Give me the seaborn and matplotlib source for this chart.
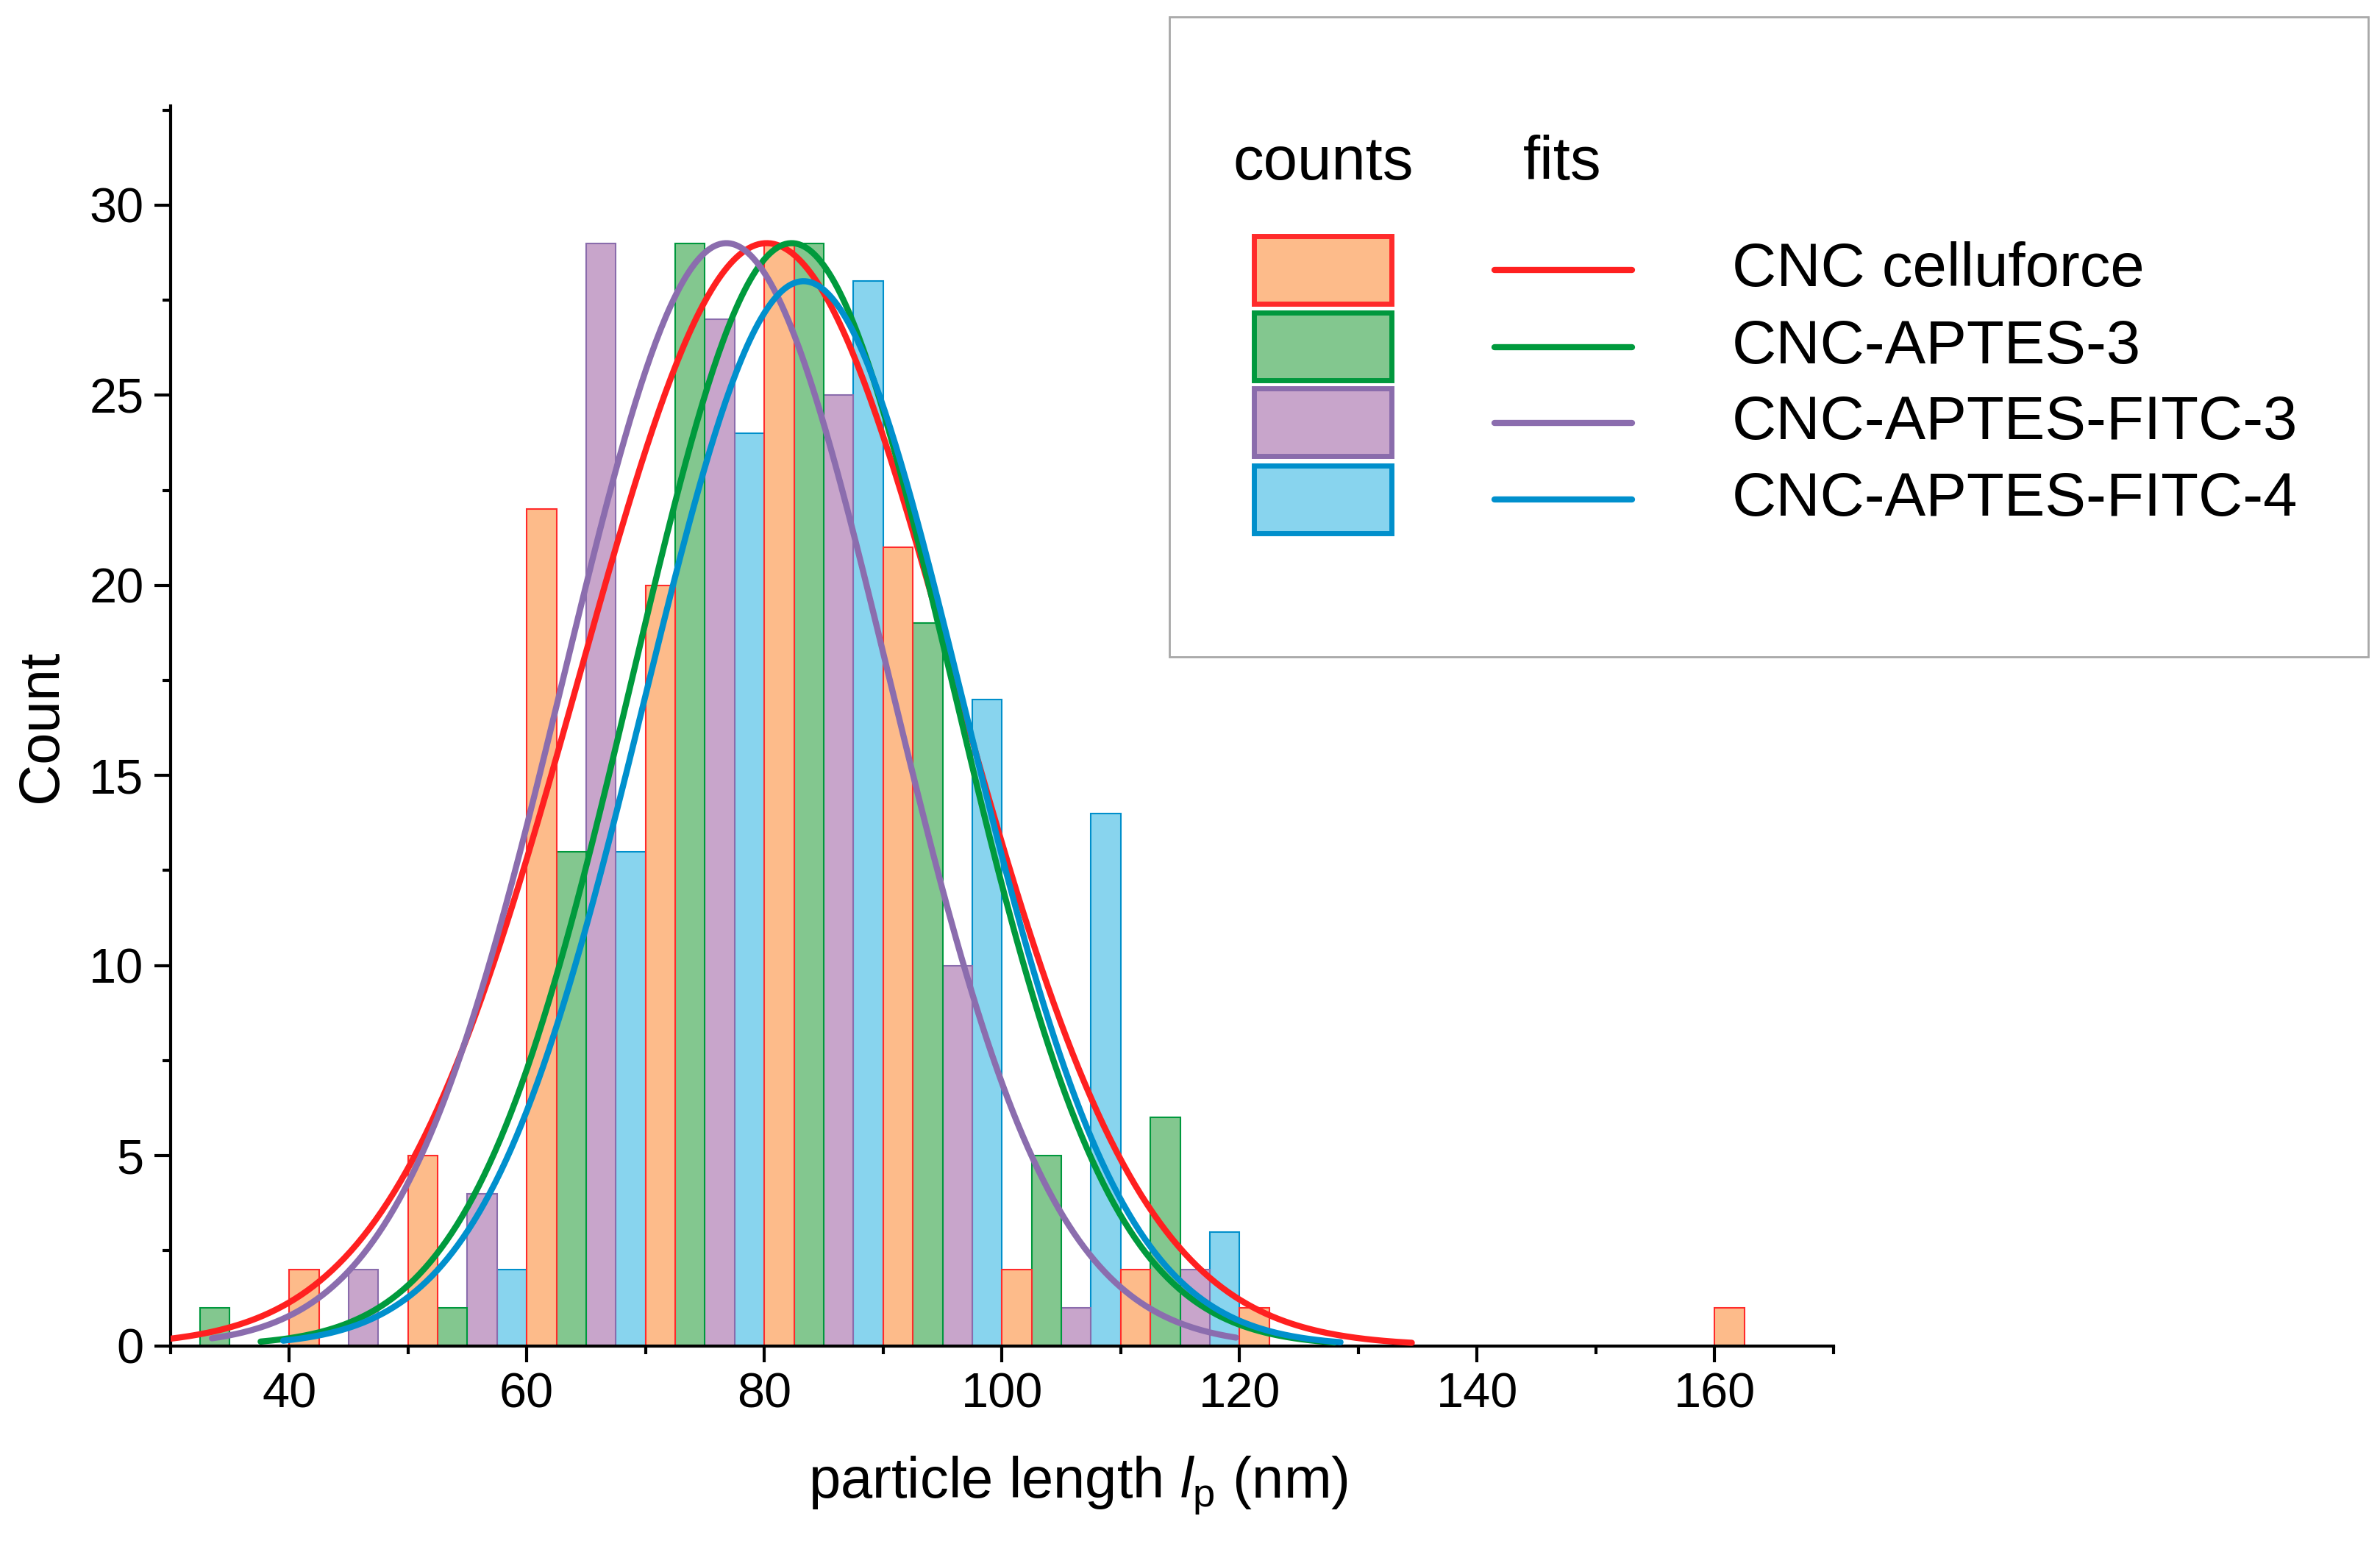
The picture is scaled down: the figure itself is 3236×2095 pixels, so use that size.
import numpy as np
import pandas as pd
import matplotlib
matplotlib.use("Agg")
import matplotlib.pyplot as plt
import matplotlib.colors as mcolors
from matplotlib.patches import Rectangle
from matplotlib.lines import Line2D
from matplotlib.ticker import MultipleLocator
import seaborn as sns

sns.set_style("ticks")
plt.rcParams['font.family'] = ['Liberation Sans', 'DejaVu Sans']
plt.rcParams['mathtext.fontset'] = 'custom'
plt.rcParams['mathtext.rm'] = 'Liberation Sans'
plt.rcParams['mathtext.it'] = 'Liberation Sans:italic'
for key in ['text.color', 'axes.labelcolor', 'xtick.color', 'ytick.color', 'axes.edgecolor']:
    plt.rcParams[key] = 'black'

# data (10 nm bins, one quarter of each bin per sample)
samples = ["CNC celluforce", "CNC-APTES-3", "CNC-APTES-FITC-3", "CNC-APTES-FITC-4"]
bin_edges = [30, 40, 50, 60, 70, 80, 90, 100, 110, 120, 130, 140, 150, 160, 170]
counts_celluforce = [0, 2, 5, 22, 20, 29, 21, 2, 2, 1, 0, 0, 0, 1]
counts_aptes3 = [1, 0, 1, 13, 29, 29, 19, 5, 6, 0, 0, 0, 0, 0]
counts_fitc3 = [0, 2, 4, 29, 27, 25, 10, 1, 2, 0, 0, 0, 0, 0]
counts_fitc4 = [0, 0, 2, 13, 24, 28, 17, 14, 3, 0, 0, 0, 0, 0]

# gaussian fit parameters (centre, width, height, drawn range)
fit_centre = [80.2, 82.3, 76.8, 83.3]
fit_sigma = [15.8, 13.4, 13.7, 13.4]
fit_height = [29.0, 29.0, 29.0, 28.0]
fit_start = [30.0, 37.6, 33.5, 39.5]
fit_end = [134.5, 128.0, 119.7, 128.5]

fill_colors = ["#FDBB8A", "#83C78F", "#C8A5CB", "#88D4EE"]
edge_colors = ["#FF2B2B", "#00983D", "#8A6CAC", "#008FCB"]
line_colors = ["#FF2020", "#009A3D", "#8B6DAE", "#0090CD"]

all_counts = [counts_celluforce, counts_aptes3, counts_fitc3, counts_fitc4]
rows = []
for name, cnts in zip(samples, all_counts):
    for lo, hi, c in zip(bin_edges[:-1], bin_edges[1:], cnts):
        if c > 0:
            rows.append({"length": (lo + hi) / 2, "count": c, "sample": name})
df = pd.DataFrame(rows)

W, H = 3237, 2095
fig = plt.figure(figsize=(W / 100, H / 100), dpi=100)
ax = fig.add_axes([231.6 / W, 1 - 1829.6 / H, (2493 - 231.6) / W, (1829.6 - 144.5) / H])

sns.histplot(data=df, x="length", weights="count", hue="sample", hue_order=samples,
             bins=bin_edges, multiple="dodge", shrink=1, palette=fill_colors,
             alpha=1, linewidth=1.5, legend=False, ax=ax)

# per-sample edge colours
edge_map = {mcolors.to_hex(f): e for f, e in zip(fill_colors, edge_colors)}
for p in ax.patches:
    p.set_edgecolor(edge_map.get(mcolors.to_hex(p.get_facecolor()), "none"))

# fitted curves
for i, name in enumerate(samples):
    xs = np.linspace(fit_start[i], fit_end[i], 400)
    ys = fit_height[i] * np.exp(-0.5 * ((xs - fit_centre[i]) / fit_sigma[i]) ** 2)
    sns.lineplot(x=xs, y=ys, color=line_colors[i], linewidth=6, sort=False,
                 estimator=None, ax=ax, zorder=3)

ax.set_xlim(30, 170)
ax.set_ylim(0, 32.6)
ax.xaxis.set_major_locator(MultipleLocator(20))
ax.xaxis.set_minor_locator(MultipleLocator(10))
ax.yaxis.set_major_locator(MultipleLocator(5))
ax.yaxis.set_minor_locator(MultipleLocator(2.5))
ax.tick_params(which="major", direction="out", length=16, width=3, labelsize=48, pad=10)
ax.tick_params(which="minor", direction="out", length=8, width=3)
for s in ["left", "bottom"]:
    ax.spines[s].set_linewidth(3)
sns.despine(ax=ax)

ax.set_xlabel(r"particle length $\mathit{l}_\mathrm{p}$ (nm)", fontsize=56, labelpad=36)
ax.xaxis.label.set_x(0.546)
ax.set_ylabel("Count", fontsize=56, labelpad=20)

# legend box drawn by hand in figure pixels
def fx(px):
    return px / W

def fy(py):
    return 1 - py / H

fig.add_artist(Rectangle((fx(1590), fy(893)), (3220 - 1590) / W, (893 - 23) / H,
                         transform=fig.transFigure, facecolor="white",
                         edgecolor="#a8a8a8", linewidth=2))
fig.text(fx(1799), fy(222), "counts", fontsize=60, ha="center", va="center")
fig.text(fx(2124), fy(222), "fits", fontsize=60, ha="center", va="center")
patch_tops = [321, 425, 528, 633]
line_ys = [367, 472, 575, 679]
for i, name in enumerate(samples):
    fig.add_artist(Rectangle((fx(1705), fy(patch_tops[i] + 92)), (1892 - 1705) / W, 92 / H,
                             transform=fig.transFigure, facecolor=fill_colors[i],
                             edgecolor=edge_colors[i], linewidth=5))
    fig.add_artist(Line2D([fx(2032), fx(2219)], [fy(line_ys[i]), fy(line_ys[i])],
                          transform=fig.transFigure, color=line_colors[i], linewidth=6))
    fig.text(fx(2355), fy(line_ys[i]), name, fontsize=60, ha="left", va="center")

fig.savefig("out.png", dpi=100)
